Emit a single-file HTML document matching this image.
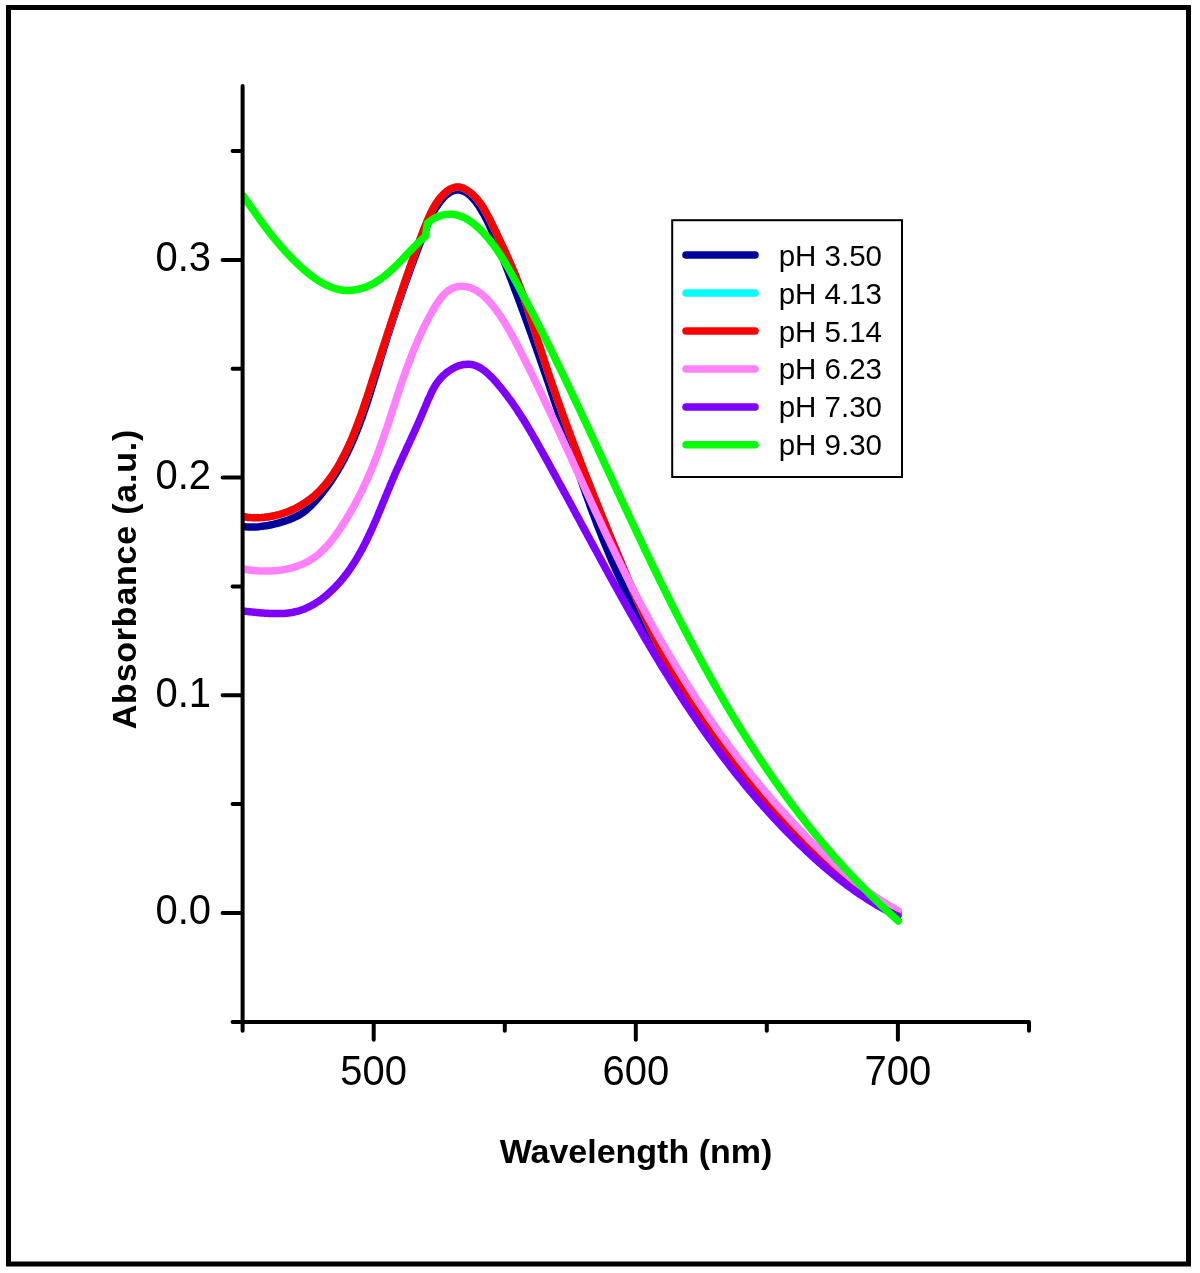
<!DOCTYPE html>
<html><head><meta charset="utf-8"><style>
html,body{margin:0;padding:0;background:#fff;}
body{width:1200px;height:1273px;overflow:hidden;font-family:"Liberation Sans",sans-serif;}
svg{display:block;will-change:transform;}
</style></head><body>
<svg width="1200" height="1273" viewBox="0 0 1200 1273">
<rect x="8.5" y="7.5" width="1180" height="1256.5" fill="none" stroke="#000" stroke-width="5"/>
<defs><clipPath id="pc"><rect x="242.8" y="0" width="1000" height="1273"/></clipPath></defs><g clip-path="url(#pc)">
<path d="M243.0,526.5 L245.6,526.8 L248.2,526.9 L250.8,527.0 L253.4,527.0 L256.0,526.9 L258.6,526.7 L261.1,526.4 L263.7,526.1 L266.3,525.7 L268.9,525.3 L271.4,524.8 L274.0,524.2 L276.5,523.5 L279.0,522.9 L281.5,522.1 L284.0,521.4 L286.5,520.5 L288.9,519.7 L291.3,518.7 L293.7,517.7 L296.0,516.6 L298.3,515.5 L300.5,514.2 L302.7,512.8 L304.8,511.2 L306.8,509.6 L308.7,507.8 L310.6,506.0 L312.5,504.1 L314.3,502.2 L316.1,500.2 L317.8,498.2 L319.5,496.2 L321.2,494.2 L322.8,492.2 L324.4,490.1 L326.0,488.1 L327.5,486.0 L329.0,483.9 L330.5,481.8 L332.0,479.6 L333.4,477.5 L334.8,475.3 L336.1,473.1 L337.5,470.9 L338.8,468.7 L340.1,466.5 L341.3,464.2 L342.6,462.0 L343.8,459.7 L345.0,457.4 L346.1,455.1 L347.3,452.8 L348.4,450.5 L349.5,448.1 L350.6,445.8 L351.6,443.4 L352.7,441.1 L353.7,438.7 L354.7,436.3 L355.7,433.9 L356.7,431.5 L357.6,429.1 L358.6,426.7 L359.5,424.2 L360.4,421.8 L361.3,419.4 L362.2,416.9 L363.1,414.4 L363.9,412.0 L364.8,409.5 L365.6,407.0 L366.5,404.6 L367.3,402.1 L368.1,399.6 L368.9,397.1 L369.7,394.6 L370.5,392.1 L371.3,389.6 L372.0,387.1 L372.8,384.6 L373.6,382.1 L374.3,379.5 L375.1,377.0 L375.9,374.5 L376.6,372.0 L377.4,369.5 L378.1,367.0 L378.9,364.4 L379.6,361.9 L380.4,359.4 L381.1,356.9 L381.9,354.4 L382.7,351.9 L383.4,349.4 L384.2,346.9 L385.0,344.4 L385.7,341.9 L386.5,339.4 L387.3,336.9 L388.1,334.4 L388.9,332.0 L389.7,329.5 L390.5,327.0 L391.3,324.5 L392.1,322.1 L392.9,319.6 L393.7,317.1 L394.5,314.7 L395.4,312.2 L396.2,309.7 L397.0,307.3 L397.8,304.8 L398.7,302.4 L399.5,299.9 L400.4,297.5 L401.2,295.0 L402.0,292.6 L402.9,290.1 L403.8,287.7 L404.6,285.2 L405.5,282.8 L406.3,280.4 L407.2,277.9 L408.1,275.5 L409.0,273.1 L409.8,270.6 L410.7,268.2 L411.6,265.8 L412.5,263.4 L413.4,260.9 L414.3,258.5 L415.2,256.1 L416.1,253.7 L417.0,251.3 L417.9,248.8 L418.8,246.4 L419.7,244.0 L420.7,241.6 L421.6,239.2 L422.5,236.8 L423.4,234.4 L424.4,232.0 L425.3,229.5 L426.3,227.1 L427.3,224.7 L428.3,222.4 L429.4,220.0 L430.5,217.6 L431.7,215.3 L432.9,212.9 L434.2,210.6 L435.6,208.3 L437.1,206.0 L438.7,203.7 L440.3,201.5 L442.1,199.3 L443.9,197.3 L445.8,195.4 L447.8,193.8 L449.9,192.4 L452.0,191.3 L454.2,190.5 L456.5,190.1 L458.7,190.1 L461.0,190.4 L463.2,191.1 L465.4,192.1 L467.5,193.4 L469.5,194.9 L471.4,196.7 L473.2,198.7 L475.0,200.8 L476.7,203.0 L478.3,205.3 L479.8,207.6 L481.2,209.9 L482.6,212.2 L484.0,214.5 L485.2,216.9 L486.4,219.2 L487.6,221.6 L488.7,223.9 L489.8,226.3 L490.9,228.7 L491.9,231.0 L492.9,233.4 L493.9,235.8 L494.9,238.2 L495.8,240.6 L496.8,243.0 L497.8,245.4 L498.7,247.8 L499.7,250.2 L500.6,252.6 L501.6,255.0 L502.5,257.4 L503.5,259.8 L504.4,262.2 L505.4,264.6 L506.3,267.0 L507.2,269.4 L508.2,271.8 L509.1,274.2 L510.0,276.7 L511.0,279.1 L511.9,281.5 L512.8,283.9 L513.7,286.3 L514.6,288.8 L515.6,291.2 L516.5,293.6 L517.4,296.0 L518.3,298.5 L519.2,300.9 L520.1,303.3 L521.0,305.8 L521.9,308.2 L522.8,310.6 L523.7,313.1 L524.6,315.5 L525.5,317.9 L526.4,320.4 L527.2,322.8 L528.1,325.3 L529.0,327.7 L529.9,330.2 L530.8,332.6 L531.7,335.0 L532.5,337.5 L533.4,339.9 L534.3,342.4 L535.1,344.9 L536.0,347.3 L536.9,349.8 L537.7,352.2 L538.6,354.7 L539.5,357.1 L540.3,359.6 L541.2,362.0 L542.0,364.5 L542.9,367.0 L543.7,369.4 L544.6,371.9 L545.4,374.4 L546.3,376.8 L547.1,379.3 L548.0,381.7 L548.8,384.2 L549.6,386.7 L550.5,389.2 L551.3,391.6 L552.1,394.1 L553.0,396.6 L553.8,399.0 L554.6,401.5 L555.5,404.0 L556.3,406.5 L557.1,408.9 L557.9,411.4 L558.8,413.9 L559.6,416.4 L560.4,418.8 L561.2,421.3 L562.1,423.8 L562.9,426.3 L563.7,428.7 L564.5,431.2 L565.4,433.7 L566.2,436.2 L567.0,438.7 L567.8,441.1 L568.6,443.6 L569.5,446.1 L570.3,448.6 L571.1,451.0 L572.0,453.5 L572.8,456.0 L573.6,458.5 L574.5,460.9 L575.3,463.4 L576.1,465.9 L577.0,468.3 L577.8,470.8 L578.7,473.3 L579.5,475.7 L580.4,478.2 L581.2,480.7 L582.1,483.1 L582.9,485.6 L583.8,488.0 L584.7,490.5 L585.5,492.9 L586.4,495.4 L587.3,497.8 L588.2,500.3 L589.1,502.7 L589.9,505.2 L590.8,507.6 L591.7,510.1 L592.6,512.5 L593.6,514.9 L594.5,517.4 L595.4,519.8 L596.3,522.2 L597.2,524.7 L598.2,527.1 L599.1,529.5 L600.1,531.9 L601.0,534.3 L602.0,536.8 L603.0,539.2 L603.9,541.6 L604.9,544.0 L605.9,546.4 L606.9,548.8 L607.9,551.2 L608.9,553.6 L609.9,555.9 L610.9,558.3 L611.9,560.7 L613.0,563.1 L614.0,565.5 L615.1,567.8 L616.1,570.2 L617.2,572.6 L618.3,574.9 L619.3,577.3 L620.4,579.6 L621.5,582.0 L622.6,584.3 L623.7,586.7 L624.8,589.0 L625.9,591.3 L627.0,593.7 L628.2,596.0 L629.3,598.3 L630.4,600.7 L631.6,603.0 L632.7,605.3 L633.9,607.6 L635.1,609.9 L636.2,612.2 L637.4,614.6 L638.6,616.9 L639.8,619.2 L641.0,621.5 L642.2,623.8 L643.4,626.0 L644.6,628.3 L645.9,630.6 L647.1,632.9 L648.3,635.2 L649.6,637.5 L650.8,639.7 L652.1,642.0 L653.3,644.3 L654.6,646.6 L655.8,648.8 L657.1,651.1 L658.4,653.3 L659.7,655.6 L661.0,657.9 L662.3,660.1 L663.6,662.4 L664.9,664.6 L666.2,666.8 L667.5,669.1 L668.9,671.3 L670.2,673.6 L671.5,675.8 L672.9,678.0 L674.2,680.2 L675.6,682.5 L676.9,684.7 L678.3,686.9 L679.7,689.1 L681.0,691.3 L682.4,693.6 L683.8,695.8 L685.2,698.0 L686.6,700.2 L688.0,702.4 L689.4,704.6 L690.8,706.8 L692.2,709.0 L693.7,711.2 L695.1,713.4 L696.5,715.5 L698.0,717.7 L699.4,719.9 L700.9,722.1 L702.3,724.3 L703.8,726.4 L705.2,728.6 L706.7,730.8 L708.2,732.9 L709.7,735.1 L711.2,737.2 L712.7,739.4 L714.2,741.5 L715.7,743.6 L717.2,745.8 L718.7,747.9 L720.2,750.0 L721.8,752.2 L723.3,754.3 L724.8,756.4 L726.4,758.5 L728.0,760.6 L729.5,762.7 L731.1,764.8 L732.7,766.9 L734.3,768.9 L735.8,771.0 L737.4,773.1 L739.0,775.1 L740.7,777.2 L742.3,779.3 L743.9,781.3 L745.5,783.3 L747.2,785.4 L748.8,787.4 L750.5,789.4 L752.1,791.4 L753.8,793.4 L755.5,795.4 L757.1,797.4 L758.8,799.4 L760.5,801.4 L762.2,803.4 L763.9,805.3 L765.7,807.3 L767.4,809.2 L769.1,811.2 L770.9,813.1 L772.6,815.0 L774.4,816.9 L776.1,818.9 L777.9,820.8 L779.7,822.7 L781.5,824.5 L783.2,826.4 L785.0,828.3 L786.9,830.1 L788.7,832.0 L790.5,833.8 L792.3,835.7 L794.2,837.5 L796.0,839.3 L797.9,841.1 L799.8,842.9 L801.6,844.7 L803.5,846.5 L805.4,848.3 L807.3,850.0 L809.2,851.8 L811.1,853.5 L813.1,855.2 L815.0,857.0 L816.9,858.7 L818.9,860.4 L820.8,862.1 L822.8,863.8 L824.8,865.4 L826.8,867.1 L828.8,868.7 L830.8,870.4 L832.8,872.0 L834.8,873.6 L836.9,875.2 L838.9,876.8 L840.9,878.4 L843.0,880.0 L845.1,881.5 L847.2,883.1 L849.2,884.6 L851.3,886.1 L853.5,887.6 L855.6,889.1 L857.7,890.6 L859.8,892.1 L862.0,893.6 L864.1,895.0 L866.3,896.5 L868.5,897.9 L870.7,899.3 L872.9,900.7 L875.1,902.1 L877.3,903.5 L879.5,904.8 L881.7,906.2 L884.0,907.5 L886.2,908.8 L888.5,910.1 L890.8,911.4 L893.1,912.7 L895.4,914.0 L897.7,915.2" fill="none" stroke="#00009a" stroke-width="7.5" stroke-linecap="round" stroke-linejoin="round"/>
<path d="M242.9,516.8 L245.5,517.1 L248.2,517.4 L250.8,517.6 L253.4,517.7 L256.0,517.8 L258.6,517.7 L261.2,517.6 L263.8,517.4 L266.4,517.1 L269.0,516.7 L271.6,516.3 L274.1,515.8 L276.6,515.2 L279.1,514.6 L281.6,513.8 L284.1,513.0 L286.5,512.2 L288.9,511.2 L291.3,510.2 L293.7,509.2 L296.0,508.0 L298.3,506.8 L300.5,505.6 L302.7,504.2 L304.9,502.8 L307.0,501.4 L309.1,499.9 L311.2,498.3 L313.2,496.7 L315.1,495.0 L317.0,493.2 L318.9,491.5 L320.7,489.6 L322.4,487.7 L324.2,485.8 L325.8,483.8 L327.5,481.8 L329.0,479.7 L330.6,477.6 L332.1,475.5 L333.6,473.3 L335.0,471.1 L336.4,468.9 L337.8,466.6 L339.1,464.4 L340.4,462.1 L341.6,459.8 L342.9,457.4 L344.1,455.1 L345.3,452.8 L346.4,450.4 L347.5,448.1 L348.6,445.7 L349.7,443.3 L350.8,441.0 L351.8,438.6 L352.8,436.2 L353.8,433.8 L354.7,431.4 L355.7,429.0 L356.6,426.6 L357.5,424.2 L358.4,421.8 L359.3,419.4 L360.2,417.0 L361.1,414.5 L361.9,412.1 L362.8,409.7 L363.6,407.2 L364.4,404.8 L365.2,402.4 L366.0,399.9 L366.9,397.5 L367.7,395.0 L368.5,392.6 L369.3,390.1 L370.1,387.7 L370.9,385.2 L371.6,382.7 L372.4,380.3 L373.2,377.8 L374.0,375.3 L374.8,372.8 L375.6,370.4 L376.4,367.9 L377.2,365.4 L378.1,362.9 L378.9,360.5 L379.7,358.0 L380.5,355.5 L381.3,353.0 L382.1,350.5 L382.9,348.0 L383.7,345.6 L384.5,343.1 L385.3,340.6 L386.1,338.1 L386.9,335.6 L387.7,333.1 L388.5,330.7 L389.4,328.2 L390.2,325.7 L391.0,323.2 L391.8,320.8 L392.6,318.3 L393.4,315.8 L394.2,313.3 L395.1,310.9 L395.9,308.4 L396.7,305.9 L397.5,303.5 L398.4,301.0 L399.2,298.5 L400.0,296.1 L400.8,293.6 L401.7,291.2 L402.5,288.7 L403.3,286.3 L404.2,283.9 L405.0,281.4 L405.8,279.0 L406.7,276.6 L407.5,274.1 L408.3,271.7 L409.2,269.3 L410.0,266.9 L410.9,264.5 L411.7,262.1 L412.6,259.7 L413.4,257.3 L414.3,254.9 L415.1,252.5 L416.0,250.1 L416.9,247.7 L417.8,245.2 L418.7,242.8 L419.6,240.4 L420.5,238.0 L421.4,235.6 L422.4,233.1 L423.3,230.7 L424.3,228.2 L425.3,225.8 L426.3,223.3 L427.3,220.8 L428.4,218.3 L429.4,215.9 L430.6,213.5 L431.7,211.0 L433.0,208.7 L434.3,206.4 L435.6,204.1 L437.1,201.9 L438.6,199.8 L440.2,197.7 L442.0,195.8 L443.8,193.9 L445.7,192.2 L447.8,190.6 L449.9,189.2 L452.1,188.2 L454.3,187.4 L456.6,187.0 L458.8,187.0 L461.1,187.5 L463.4,188.2 L465.6,189.3 L467.8,190.7 L469.9,192.2 L472.0,193.9 L473.9,195.7 L475.8,197.6 L477.5,199.6 L479.1,201.7 L480.7,203.8 L482.2,205.9 L483.6,208.1 L484.9,210.4 L486.2,212.7 L487.5,215.0 L488.7,217.3 L489.9,219.6 L491.1,222.0 L492.2,224.4 L493.4,226.7 L494.5,229.1 L495.7,231.4 L496.8,233.8 L497.9,236.1 L499.0,238.5 L500.1,240.8 L501.2,243.2 L502.3,245.5 L503.4,247.9 L504.5,250.2 L505.6,252.6 L506.6,254.9 L507.7,257.3 L508.7,259.6 L509.8,262.0 L510.8,264.3 L511.8,266.7 L512.8,269.0 L513.8,271.4 L514.8,273.8 L515.8,276.2 L516.7,278.5 L517.7,280.9 L518.6,283.3 L519.5,285.7 L520.4,288.1 L521.3,290.6 L522.2,293.0 L523.1,295.4 L523.9,297.8 L524.8,300.3 L525.6,302.7 L526.5,305.2 L527.3,307.6 L528.1,310.1 L528.9,312.6 L529.7,315.0 L530.5,317.5 L531.3,320.0 L532.1,322.4 L532.9,324.9 L533.7,327.4 L534.5,329.9 L535.3,332.4 L536.1,334.8 L536.8,337.3 L537.6,339.8 L538.4,342.3 L539.2,344.8 L540.0,347.3 L540.8,349.7 L541.6,352.2 L542.4,354.7 L543.2,357.2 L544.0,359.6 L544.8,362.1 L545.6,364.6 L546.4,367.0 L547.2,369.5 L548.0,372.0 L548.9,374.4 L549.7,376.9 L550.5,379.3 L551.4,381.8 L552.2,384.3 L553.1,386.7 L553.9,389.2 L554.8,391.6 L555.6,394.1 L556.5,396.5 L557.3,399.0 L558.2,401.4 L559.1,403.9 L559.9,406.3 L560.8,408.7 L561.7,411.2 L562.5,413.6 L563.4,416.1 L564.3,418.5 L565.2,420.9 L566.1,423.4 L567.0,425.8 L567.9,428.2 L568.8,430.7 L569.7,433.1 L570.6,435.5 L571.5,438.0 L572.4,440.4 L573.3,442.8 L574.2,445.2 L575.1,447.7 L576.1,450.1 L577.0,452.5 L577.9,454.9 L578.8,457.3 L579.8,459.8 L580.7,462.2 L581.6,464.6 L582.5,467.0 L583.5,469.4 L584.4,471.9 L585.4,474.3 L586.3,476.7 L587.3,479.1 L588.2,481.5 L589.2,483.9 L590.1,486.3 L591.1,488.7 L592.0,491.1 L593.0,493.6 L593.9,496.0 L594.9,498.4 L595.9,500.8 L596.8,503.2 L597.8,505.6 L598.8,508.0 L599.7,510.4 L600.7,512.8 L601.7,515.2 L602.7,517.6 L603.6,520.0 L604.6,522.4 L605.6,524.8 L606.6,527.2 L607.6,529.6 L608.5,532.0 L609.5,534.4 L610.5,536.8 L611.5,539.2 L612.5,541.6 L613.5,544.0 L614.5,546.4 L615.5,548.8 L616.5,551.2 L617.5,553.6 L618.5,556.0 L619.5,558.4 L620.5,560.8 L621.5,563.2 L622.5,565.6 L623.5,568.0 L624.5,570.4 L625.5,572.8 L626.5,575.2 L627.5,577.6 L628.5,580.0 L629.6,582.4 L630.6,584.8 L631.6,587.2 L632.7,589.6 L633.7,591.9 L634.7,594.3 L635.8,596.7 L636.8,599.1 L637.9,601.5 L638.9,603.8 L640.0,606.2 L641.1,608.6 L642.1,611.0 L643.2,613.3 L644.3,615.7 L645.4,618.0 L646.4,620.4 L647.5,622.8 L648.6,625.1 L649.7,627.5 L650.9,629.8 L652.0,632.1 L653.1,634.5 L654.2,636.8 L655.4,639.1 L656.5,641.5 L657.7,643.8 L658.8,646.1 L660.0,648.4 L661.1,650.7 L662.3,653.1 L663.5,655.4 L664.7,657.7 L665.9,659.9 L667.1,662.2 L668.3,664.5 L669.6,666.8 L670.8,669.1 L672.0,671.4 L673.3,673.6 L674.5,675.9 L675.8,678.1 L677.1,680.4 L678.4,682.6 L679.7,684.9 L681.0,687.1 L682.3,689.3 L683.6,691.6 L684.9,693.8 L686.3,696.0 L687.6,698.2 L689.0,700.4 L690.3,702.6 L691.7,704.8 L693.1,707.0 L694.5,709.1 L695.9,711.3 L697.4,713.5 L698.8,715.6 L700.2,717.8 L701.7,719.9 L703.2,722.1 L704.6,724.2 L706.1,726.3 L707.6,728.4 L709.1,730.6 L710.6,732.7 L712.1,734.8 L713.6,736.9 L715.2,739.0 L716.7,741.0 L718.3,743.1 L719.8,745.2 L721.4,747.3 L723.0,749.3 L724.5,751.4 L726.1,753.5 L727.7,755.5 L729.3,757.5 L731.0,759.6 L732.6,761.6 L734.2,763.6 L735.8,765.7 L737.5,767.7 L739.1,769.7 L740.8,771.7 L742.4,773.7 L744.1,775.7 L745.8,777.7 L747.5,779.7 L749.2,781.7 L750.9,783.6 L752.6,785.6 L754.3,787.6 L756.0,789.6 L757.7,791.5 L759.4,793.5 L761.1,795.4 L762.9,797.4 L764.6,799.3 L766.4,801.2 L768.1,803.2 L769.9,805.1 L771.6,807.0 L773.4,808.9 L775.2,810.8 L776.9,812.7 L778.7,814.7 L780.5,816.6 L782.3,818.4 L784.1,820.3 L785.9,822.2 L787.7,824.1 L789.5,826.0 L791.3,827.9 L793.1,829.7 L794.9,831.6 L796.7,833.5 L798.6,835.3 L800.4,837.2 L802.2,839.0 L804.0,840.9 L805.9,842.7 L807.7,844.5 L809.5,846.4 L811.4,848.2 L813.2,850.0 L815.1,851.9 L816.9,853.7 L818.8,855.5 L820.6,857.3 L822.5,859.1 L824.4,860.9 L826.2,862.7 L828.1,864.5 L830.0,866.2 L831.9,868.0 L833.8,869.7 L835.7,871.5 L837.7,873.2 L839.6,874.9 L841.5,876.6 L843.5,878.3 L845.5,879.9 L847.4,881.6 L849.4,883.2 L851.4,884.8 L853.5,886.4 L855.5,888.0 L857.6,889.5 L859.6,891.0 L861.7,892.6 L863.8,894.0 L866.0,895.5 L868.1,896.9 L870.3,898.3 L872.5,899.7 L874.7,901.1 L876.9,902.4 L879.1,903.7 L881.4,905.0 L883.7,906.2 L886.0,907.5 L888.4,908.6 L890.8,909.8 L893.2,910.9 L895.6,912.0 L898.0,913.1" fill="none" stroke="#00ffff" stroke-width="7.5" stroke-linecap="round" stroke-linejoin="round"/>
<path d="M242.9,516.8 L245.5,517.1 L248.2,517.4 L250.8,517.6 L253.4,517.7 L256.0,517.8 L258.6,517.7 L261.2,517.6 L263.8,517.4 L266.4,517.1 L269.0,516.7 L271.6,516.3 L274.1,515.8 L276.6,515.2 L279.1,514.6 L281.6,513.8 L284.1,513.0 L286.5,512.2 L288.9,511.2 L291.3,510.2 L293.7,509.2 L296.0,508.0 L298.3,506.8 L300.5,505.6 L302.7,504.2 L304.9,502.8 L307.0,501.4 L309.1,499.9 L311.2,498.3 L313.2,496.7 L315.1,495.0 L317.0,493.2 L318.9,491.5 L320.7,489.6 L322.4,487.7 L324.2,485.8 L325.8,483.8 L327.5,481.8 L329.0,479.7 L330.6,477.6 L332.1,475.5 L333.6,473.3 L335.0,471.1 L336.4,468.9 L337.8,466.6 L339.1,464.4 L340.4,462.1 L341.6,459.8 L342.9,457.4 L344.1,455.1 L345.3,452.8 L346.4,450.4 L347.5,448.1 L348.6,445.7 L349.7,443.3 L350.8,441.0 L351.8,438.6 L352.8,436.2 L353.8,433.8 L354.7,431.4 L355.7,429.0 L356.6,426.6 L357.5,424.2 L358.4,421.8 L359.3,419.4 L360.2,417.0 L361.1,414.5 L361.9,412.1 L362.8,409.7 L363.6,407.2 L364.4,404.8 L365.2,402.4 L366.0,399.9 L366.9,397.5 L367.7,395.0 L368.5,392.6 L369.3,390.1 L370.1,387.7 L370.9,385.2 L371.6,382.7 L372.4,380.3 L373.2,377.8 L374.0,375.3 L374.8,372.8 L375.6,370.4 L376.4,367.9 L377.2,365.4 L378.1,362.9 L378.9,360.5 L379.7,358.0 L380.5,355.5 L381.3,353.0 L382.1,350.5 L382.9,348.0 L383.7,345.6 L384.5,343.1 L385.3,340.6 L386.1,338.1 L386.9,335.6 L387.7,333.1 L388.5,330.7 L389.4,328.2 L390.2,325.7 L391.0,323.2 L391.8,320.8 L392.6,318.3 L393.4,315.8 L394.2,313.3 L395.1,310.9 L395.9,308.4 L396.7,305.9 L397.5,303.5 L398.4,301.0 L399.2,298.5 L400.0,296.1 L400.8,293.6 L401.7,291.2 L402.5,288.7 L403.3,286.3 L404.2,283.9 L405.0,281.4 L405.8,279.0 L406.7,276.6 L407.5,274.1 L408.3,271.7 L409.2,269.3 L410.0,266.9 L410.9,264.5 L411.7,262.1 L412.6,259.7 L413.4,257.3 L414.3,254.9 L415.1,252.5 L416.0,250.1 L416.9,247.7 L417.8,245.2 L418.7,242.8 L419.6,240.4 L420.5,238.0 L421.4,235.6 L422.4,233.1 L423.3,230.7 L424.3,228.2 L425.3,225.8 L426.3,223.3 L427.3,220.8 L428.4,218.3 L429.4,215.9 L430.6,213.5 L431.7,211.0 L433.0,208.7 L434.3,206.4 L435.6,204.1 L437.1,201.9 L438.6,199.8 L440.2,197.7 L442.0,195.8 L443.8,193.9 L445.7,192.2 L447.8,190.6 L449.9,189.2 L452.1,188.2 L454.3,187.4 L456.6,187.0 L458.8,187.0 L461.1,187.5 L463.4,188.2 L465.6,189.3 L467.8,190.7 L469.9,192.2 L472.0,193.9 L473.9,195.7 L475.8,197.6 L477.5,199.6 L479.1,201.7 L480.7,203.8 L482.2,205.9 L483.6,208.1 L484.9,210.4 L486.2,212.7 L487.5,215.0 L488.7,217.3 L489.9,219.6 L491.1,222.0 L492.2,224.4 L493.4,226.7 L494.5,229.1 L495.7,231.4 L496.8,233.8 L497.9,236.1 L499.0,238.5 L500.1,240.8 L501.2,243.2 L502.3,245.5 L503.4,247.9 L504.5,250.2 L505.6,252.6 L506.6,254.9 L507.7,257.3 L508.7,259.6 L509.8,262.0 L510.8,264.3 L511.8,266.7 L512.8,269.0 L513.8,271.4 L514.8,273.8 L515.8,276.2 L516.7,278.5 L517.7,280.9 L518.6,283.3 L519.5,285.7 L520.4,288.1 L521.3,290.6 L522.2,293.0 L523.1,295.4 L523.9,297.8 L524.8,300.3 L525.6,302.7 L526.5,305.2 L527.3,307.6 L528.1,310.1 L528.9,312.6 L529.7,315.0 L530.5,317.5 L531.3,320.0 L532.1,322.4 L532.9,324.9 L533.7,327.4 L534.5,329.9 L535.3,332.4 L536.1,334.8 L536.8,337.3 L537.6,339.8 L538.4,342.3 L539.2,344.8 L540.0,347.3 L540.8,349.7 L541.6,352.2 L542.4,354.7 L543.2,357.2 L544.0,359.6 L544.8,362.1 L545.6,364.6 L546.4,367.0 L547.2,369.5 L548.0,372.0 L548.9,374.4 L549.7,376.9 L550.5,379.3 L551.4,381.8 L552.2,384.3 L553.1,386.7 L553.9,389.2 L554.8,391.6 L555.6,394.1 L556.5,396.5 L557.3,399.0 L558.2,401.4 L559.1,403.9 L559.9,406.3 L560.8,408.7 L561.7,411.2 L562.5,413.6 L563.4,416.1 L564.3,418.5 L565.2,420.9 L566.1,423.4 L567.0,425.8 L567.9,428.2 L568.8,430.7 L569.7,433.1 L570.6,435.5 L571.5,438.0 L572.4,440.4 L573.3,442.8 L574.2,445.2 L575.1,447.7 L576.1,450.1 L577.0,452.5 L577.9,454.9 L578.8,457.3 L579.8,459.8 L580.7,462.2 L581.6,464.6 L582.5,467.0 L583.5,469.4 L584.4,471.9 L585.4,474.3 L586.3,476.7 L587.3,479.1 L588.2,481.5 L589.2,483.9 L590.1,486.3 L591.1,488.7 L592.0,491.1 L593.0,493.6 L593.9,496.0 L594.9,498.4 L595.9,500.8 L596.8,503.2 L597.8,505.6 L598.8,508.0 L599.7,510.4 L600.7,512.8 L601.7,515.2 L602.7,517.6 L603.6,520.0 L604.6,522.4 L605.6,524.8 L606.6,527.2 L607.6,529.6 L608.5,532.0 L609.5,534.4 L610.5,536.8 L611.5,539.2 L612.5,541.6 L613.5,544.0 L614.5,546.4 L615.5,548.8 L616.5,551.2 L617.5,553.6 L618.5,556.0 L619.5,558.4 L620.5,560.8 L621.5,563.2 L622.5,565.6 L623.5,568.0 L624.5,570.4 L625.5,572.8 L626.5,575.2 L627.5,577.6 L628.5,580.0 L629.6,582.4 L630.6,584.8 L631.6,587.2 L632.7,589.6 L633.7,591.9 L634.7,594.3 L635.8,596.7 L636.8,599.1 L637.9,601.5 L638.9,603.8 L640.0,606.2 L641.1,608.6 L642.1,611.0 L643.2,613.3 L644.3,615.7 L645.4,618.0 L646.4,620.4 L647.5,622.8 L648.6,625.1 L649.7,627.5 L650.9,629.8 L652.0,632.1 L653.1,634.5 L654.2,636.8 L655.4,639.1 L656.5,641.5 L657.7,643.8 L658.8,646.1 L660.0,648.4 L661.1,650.7 L662.3,653.1 L663.5,655.4 L664.7,657.7 L665.9,659.9 L667.1,662.2 L668.3,664.5 L669.6,666.8 L670.8,669.1 L672.0,671.4 L673.3,673.6 L674.5,675.9 L675.8,678.1 L677.1,680.4 L678.4,682.6 L679.7,684.9 L681.0,687.1 L682.3,689.3 L683.6,691.6 L684.9,693.8 L686.3,696.0 L687.6,698.2 L689.0,700.4 L690.3,702.6 L691.7,704.8 L693.1,707.0 L694.5,709.1 L695.9,711.3 L697.4,713.5 L698.8,715.6 L700.2,717.8 L701.7,719.9 L703.2,722.1 L704.6,724.2 L706.1,726.3 L707.6,728.4 L709.1,730.6 L710.6,732.7 L712.1,734.8 L713.6,736.9 L715.2,739.0 L716.7,741.0 L718.3,743.1 L719.8,745.2 L721.4,747.3 L723.0,749.3 L724.5,751.4 L726.1,753.5 L727.7,755.5 L729.3,757.5 L731.0,759.6 L732.6,761.6 L734.2,763.6 L735.8,765.7 L737.5,767.7 L739.1,769.7 L740.8,771.7 L742.4,773.7 L744.1,775.7 L745.8,777.7 L747.5,779.7 L749.2,781.7 L750.9,783.6 L752.6,785.6 L754.3,787.6 L756.0,789.6 L757.7,791.5 L759.4,793.5 L761.1,795.4 L762.9,797.4 L764.6,799.3 L766.4,801.2 L768.1,803.2 L769.9,805.1 L771.6,807.0 L773.4,808.9 L775.2,810.8 L776.9,812.7 L778.7,814.7 L780.5,816.6 L782.3,818.4 L784.1,820.3 L785.9,822.2 L787.7,824.1 L789.5,826.0 L791.3,827.9 L793.1,829.7 L794.9,831.6 L796.7,833.5 L798.6,835.3 L800.4,837.2 L802.2,839.0 L804.0,840.9 L805.9,842.7 L807.7,844.5 L809.5,846.4 L811.4,848.2 L813.2,850.0 L815.1,851.9 L816.9,853.7 L818.8,855.5 L820.6,857.3 L822.5,859.1 L824.4,860.9 L826.2,862.7 L828.1,864.5 L830.0,866.2 L831.9,868.0 L833.8,869.7 L835.7,871.5 L837.7,873.2 L839.6,874.9 L841.5,876.6 L843.5,878.3 L845.5,879.9 L847.4,881.6 L849.4,883.2 L851.4,884.8 L853.5,886.4 L855.5,888.0 L857.6,889.5 L859.6,891.0 L861.7,892.6 L863.8,894.0 L866.0,895.5 L868.1,896.9 L870.3,898.3 L872.5,899.7 L874.7,901.1 L876.9,902.4 L879.1,903.7 L881.4,905.0 L883.7,906.2 L886.0,907.5 L888.4,908.6 L890.8,909.8 L893.2,910.9 L895.6,912.0 L898.0,913.1" fill="none" stroke="#ff0000" stroke-width="7.5" stroke-linecap="round" stroke-linejoin="round"/>
<path d="M243.1,568.9 L245.3,569.3 L247.6,569.7 L249.8,570.0 L252.1,570.3 L254.4,570.5 L256.7,570.7 L259.1,570.9 L261.4,571.0 L263.8,571.1 L266.1,571.1 L268.5,571.1 L270.9,571.0 L273.3,570.8 L275.7,570.7 L278.1,570.4 L280.4,570.1 L282.8,569.8 L285.1,569.4 L287.4,568.9 L289.8,568.4 L292.0,567.8 L294.3,567.1 L296.5,566.4 L298.7,565.6 L300.9,564.8 L303.0,563.9 L305.1,562.9 L307.2,561.9 L309.2,560.8 L311.1,559.6 L313.0,558.3 L314.9,557.0 L316.7,555.6 L318.5,554.2 L320.2,552.7 L321.9,551.1 L323.6,549.5 L325.2,547.8 L326.8,546.1 L328.3,544.4 L329.8,542.6 L331.3,540.8 L332.8,538.9 L334.2,537.1 L335.6,535.2 L337.0,533.2 L338.3,531.3 L339.7,529.3 L341.0,527.4 L342.3,525.4 L343.6,523.4 L344.9,521.4 L346.1,519.4 L347.3,517.4 L348.6,515.4 L349.8,513.4 L350.9,511.3 L352.1,509.3 L353.3,507.2 L354.4,505.2 L355.5,503.1 L356.6,501.0 L357.7,498.9 L358.8,496.9 L359.8,494.8 L360.9,492.7 L361.9,490.5 L362.9,488.4 L363.9,486.3 L364.9,484.2 L365.9,482.0 L366.9,479.9 L367.8,477.8 L368.8,475.6 L369.7,473.5 L370.6,471.3 L371.5,469.1 L372.4,467.0 L373.3,464.8 L374.2,462.6 L375.0,460.4 L375.9,458.3 L376.7,456.1 L377.6,453.9 L378.4,451.7 L379.2,449.5 L380.0,447.3 L380.8,445.1 L381.6,442.9 L382.4,440.7 L383.1,438.5 L383.9,436.3 L384.6,434.1 L385.4,431.9 L386.1,429.7 L386.9,427.5 L387.6,425.3 L388.4,423.1 L389.1,420.9 L389.8,418.7 L390.5,416.5 L391.3,414.3 L392.0,412.1 L392.7,409.9 L393.4,407.7 L394.1,405.5 L394.9,403.3 L395.6,401.0 L396.3,398.8 L397.0,396.6 L397.7,394.4 L398.5,392.2 L399.2,390.0 L399.9,387.8 L400.7,385.6 L401.4,383.4 L402.2,381.2 L402.9,379.0 L403.7,376.8 L404.5,374.6 L405.3,372.4 L406.0,370.2 L406.8,368.0 L407.6,365.8 L408.5,363.6 L409.3,361.4 L410.1,359.3 L410.9,357.1 L411.8,354.9 L412.7,352.7 L413.5,350.5 L414.4,348.4 L415.3,346.2 L416.3,344.0 L417.2,341.9 L418.1,339.7 L419.1,337.5 L420.1,335.4 L421.1,333.2 L422.1,331.1 L423.1,328.9 L424.1,326.8 L425.2,324.7 L426.3,322.5 L427.4,320.4 L428.5,318.3 L429.6,316.1 L430.8,314.0 L432.0,311.9 L433.2,309.8 L434.4,307.7 L435.6,305.6 L436.9,303.6 L438.2,301.6 L439.6,299.7 L441.0,297.8 L442.5,296.0 L444.0,294.4 L445.6,292.8 L447.3,291.4 L449.0,290.1 L450.8,289.0 L452.7,288.1 L454.7,287.3 L456.8,286.8 L458.9,286.4 L461.1,286.3 L463.3,286.3 L465.6,286.6 L467.8,287.0 L470.0,287.6 L472.1,288.4 L474.3,289.4 L476.3,290.5 L478.4,291.8 L480.3,293.1 L482.2,294.6 L484.0,296.2 L485.8,297.9 L487.4,299.6 L489.1,301.4 L490.7,303.2 L492.2,305.1 L493.7,307.0 L495.2,308.9 L496.6,310.8 L498.0,312.7 L499.4,314.7 L500.7,316.6 L502.0,318.6 L503.3,320.5 L504.6,322.5 L505.8,324.5 L507.0,326.5 L508.2,328.5 L509.4,330.6 L510.5,332.6 L511.6,334.6 L512.8,336.7 L513.9,338.7 L515.0,340.8 L516.0,342.8 L517.1,344.9 L518.2,347.0 L519.2,349.0 L520.3,351.1 L521.4,353.2 L522.4,355.3 L523.5,357.3 L524.5,359.4 L525.6,361.5 L526.6,363.6 L527.6,365.7 L528.7,367.8 L529.7,369.8 L530.7,371.9 L531.8,374.0 L532.8,376.1 L533.8,378.2 L534.8,380.3 L535.8,382.4 L536.9,384.5 L537.9,386.6 L538.9,388.7 L539.9,390.8 L540.9,392.9 L541.9,395.0 L542.9,397.1 L543.9,399.2 L544.9,401.3 L545.9,403.5 L546.9,405.6 L547.9,407.7 L548.9,409.8 L549.9,411.9 L550.9,414.0 L551.8,416.1 L552.8,418.3 L553.8,420.4 L554.8,422.5 L555.8,424.6 L556.8,426.7 L557.7,428.9 L558.7,431.0 L559.7,433.1 L560.7,435.2 L561.6,437.3 L562.6,439.5 L563.6,441.6 L564.6,443.7 L565.5,445.9 L566.5,448.0 L567.5,450.1 L568.5,452.2 L569.4,454.4 L570.4,456.5 L571.4,458.6 L572.3,460.7 L573.3,462.9 L574.3,465.0 L575.3,467.1 L576.2,469.3 L577.2,471.4 L578.2,473.5 L579.1,475.7 L580.1,477.8 L581.1,479.9 L582.1,482.0 L583.0,484.2 L584.0,486.3 L585.0,488.4 L585.9,490.6 L586.9,492.7 L587.9,494.8 L588.9,497.0 L589.8,499.1 L590.8,501.2 L591.8,503.3 L592.8,505.5 L593.8,507.6 L594.7,509.7 L595.7,511.8 L596.7,514.0 L597.7,516.1 L598.7,518.2 L599.7,520.3 L600.7,522.5 L601.6,524.6 L602.6,526.7 L603.6,528.8 L604.6,531.0 L605.6,533.1 L606.6,535.2 L607.6,537.3 L608.6,539.4 L609.6,541.5 L610.6,543.7 L611.7,545.8 L612.7,547.9 L613.7,550.0 L614.7,552.1 L615.7,554.2 L616.7,556.3 L617.8,558.4 L618.8,560.5 L619.8,562.6 L620.8,564.7 L621.9,566.8 L622.9,568.9 L623.9,571.0 L625.0,573.1 L626.0,575.2 L627.1,577.3 L628.1,579.4 L629.2,581.5 L630.2,583.6 L631.3,585.7 L632.4,587.8 L633.4,589.9 L634.5,591.9 L635.6,594.0 L636.6,596.1 L637.7,598.2 L638.8,600.2 L639.9,602.3 L641.0,604.4 L642.1,606.5 L643.2,608.5 L644.3,610.6 L645.4,612.7 L646.5,614.7 L647.6,616.8 L648.7,618.8 L649.8,620.9 L651.0,622.9 L652.1,625.0 L653.2,627.0 L654.4,629.1 L655.5,631.1 L656.6,633.2 L657.8,635.2 L658.9,637.3 L660.1,639.3 L661.2,641.3 L662.4,643.4 L663.6,645.4 L664.7,647.4 L665.9,649.4 L667.1,651.5 L668.3,653.5 L669.5,655.5 L670.7,657.5 L671.9,659.5 L673.1,661.5 L674.3,663.5 L675.5,665.5 L676.7,667.5 L677.9,669.5 L679.1,671.5 L680.3,673.5 L681.6,675.5 L682.8,677.5 L684.0,679.5 L685.3,681.5 L686.5,683.4 L687.7,685.4 L689.0,687.4 L690.3,689.4 L691.5,691.3 L692.8,693.3 L694.0,695.3 L695.3,697.2 L696.6,699.2 L697.9,701.1 L699.2,703.1 L700.5,705.0 L701.8,707.0 L703.1,708.9 L704.4,710.9 L705.7,712.8 L707.0,714.7 L708.3,716.7 L709.6,718.6 L710.9,720.5 L712.3,722.4 L713.6,724.3 L714.9,726.3 L716.3,728.2 L717.6,730.1 L719.0,732.0 L720.3,733.9 L721.7,735.8 L723.1,737.7 L724.4,739.6 L725.8,741.4 L727.2,743.3 L728.6,745.2 L730.0,747.1 L731.4,749.0 L732.8,750.8 L734.2,752.7 L735.6,754.6 L737.0,756.4 L738.4,758.3 L739.8,760.1 L741.3,762.0 L742.7,763.8 L744.1,765.6 L745.6,767.5 L747.0,769.3 L748.5,771.1 L749.9,773.0 L751.4,774.8 L752.8,776.6 L754.3,778.4 L755.8,780.2 L757.3,782.0 L758.7,783.8 L760.2,785.6 L761.7,787.4 L763.2,789.2 L764.7,791.0 L766.2,792.8 L767.8,794.6 L769.3,796.4 L770.8,798.1 L772.3,799.9 L773.9,801.7 L775.4,803.4 L777.0,805.2 L778.5,806.9 L780.1,808.7 L781.6,810.4 L783.2,812.1 L784.8,813.9 L786.3,815.6 L787.9,817.3 L789.5,819.1 L791.1,820.8 L792.7,822.5 L794.3,824.2 L795.9,825.9 L797.5,827.6 L799.1,829.3 L800.7,831.0 L802.4,832.7 L804.0,834.3 L805.6,836.0 L807.3,837.7 L808.9,839.4 L810.6,841.0 L812.3,842.7 L813.9,844.3 L815.6,846.0 L817.3,847.6 L819.0,849.3 L820.6,850.9 L822.3,852.5 L824.0,854.1 L825.7,855.8 L827.4,857.4 L829.2,859.0 L830.9,860.6 L832.6,862.2 L834.3,863.8 L836.1,865.3 L837.8,866.9 L839.6,868.5 L841.4,870.0 L843.1,871.6 L844.9,873.1 L846.7,874.6 L848.5,876.1 L850.3,877.6 L852.1,879.1 L853.9,880.6 L855.7,882.1 L857.6,883.5 L859.4,885.0 L861.3,886.4 L863.1,887.8 L865.0,889.2 L866.9,890.6 L868.7,892.0 L870.6,893.4 L872.5,894.7 L874.4,896.0 L876.4,897.4 L878.3,898.7 L880.2,899.9 L882.2,901.2 L884.2,902.5 L886.1,903.7 L888.1,904.9 L890.1,906.1 L892.1,907.3 L894.1,908.4 L896.2,909.6 L898.2,910.7" fill="none" stroke="#ff80ff" stroke-width="7.5" stroke-linecap="round" stroke-linejoin="round"/>
<path d="M243.1,611.1 L244.3,611.2 L245.5,611.3 L246.6,611.4 L247.8,611.6 L249.0,611.7 L250.3,611.8 L251.5,611.9 L252.7,612.1 L253.9,612.2 L255.2,612.3 L256.4,612.4 L257.6,612.5 L258.9,612.7 L260.1,612.8 L261.4,612.9 L262.7,613.0 L263.9,613.1 L265.2,613.2 L266.5,613.3 L267.7,613.3 L269.0,613.4 L270.3,613.5 L271.6,613.5 L272.9,613.6 L274.1,613.6 L275.4,613.6 L276.7,613.6 L278.0,613.6 L279.3,613.6 L280.5,613.6 L281.8,613.5 L283.1,613.5 L284.4,613.4 L285.6,613.3 L286.9,613.2 L288.1,613.0 L289.4,612.9 L290.6,612.7 L291.9,612.5 L293.1,612.3 L294.3,612.0 L295.6,611.7 L296.8,611.4 L298.0,611.1 L299.1,610.8 L300.3,610.4 L301.5,610.0 L302.7,609.6 L303.8,609.2 L305.0,608.7 L306.1,608.2 L307.2,607.7 L308.3,607.2 L309.4,606.6 L310.5,606.1 L311.6,605.5 L312.7,604.9 L313.8,604.3 L314.8,603.7 L315.9,603.0 L316.9,602.3 L318.0,601.7 L319.0,601.0 L320.0,600.2 L321.0,599.5 L322.0,598.8 L323.0,598.0 L324.0,597.3 L324.9,596.5 L325.9,595.7 L326.9,594.9 L327.8,594.1 L328.7,593.3 L329.6,592.5 L330.5,591.6 L331.4,590.8 L332.3,589.9 L333.2,589.1 L334.1,588.2 L335.0,587.3 L335.8,586.4 L336.7,585.5 L337.5,584.6 L338.3,583.7 L339.1,582.8 L340.0,581.9 L340.8,581.0 L341.6,580.0 L342.3,579.1 L343.1,578.1 L343.9,577.2 L344.6,576.2 L345.4,575.2 L346.2,574.3 L346.9,573.3 L347.6,572.3 L348.3,571.3 L349.1,570.3 L349.8,569.3 L350.5,568.3 L351.2,567.2 L351.9,566.2 L352.5,565.2 L353.2,564.1 L353.9,563.1 L354.6,562.0 L355.2,561.0 L355.9,559.9 L356.5,558.9 L357.2,557.8 L357.8,556.7 L358.4,555.6 L359.0,554.5 L359.7,553.5 L360.3,552.4 L360.9,551.3 L361.5,550.2 L362.1,549.1 L362.7,548.0 L363.3,546.8 L363.8,545.7 L364.4,544.6 L365.0,543.5 L365.6,542.4 L366.1,541.2 L366.7,540.1 L367.2,539.0 L367.8,537.8 L368.3,536.7 L368.9,535.5 L369.4,534.4 L370.0,533.2 L370.5,532.1 L371.0,530.9 L371.5,529.8 L372.1,528.6 L372.6,527.5 L373.1,526.3 L373.6,525.1 L374.1,524.0 L374.6,522.8 L375.1,521.6 L375.7,520.5 L376.2,519.3 L376.7,518.1 L377.2,516.9 L377.7,515.8 L378.1,514.6 L378.6,513.4 L379.1,512.2 L379.6,511.1 L380.1,509.9 L380.6,508.7 L381.1,507.5 L381.6,506.4 L382.1,505.2 L382.5,504.0 L383.0,502.8 L383.5,501.6 L384.0,500.5 L384.5,499.3 L384.9,498.1 L385.4,496.9 L385.9,495.8 L386.4,494.6 L386.9,493.4 L387.3,492.3 L387.8,491.1 L388.3,489.9 L388.8,488.8 L389.3,487.6 L389.8,486.4 L390.2,485.3 L390.7,484.1 L391.2,483.0 L391.7,481.8 L392.2,480.7 L392.7,479.5 L393.2,478.4 L393.7,477.2 L394.2,476.1 L394.6,474.9 L395.1,473.8 L395.6,472.7 L396.1,471.5 L396.6,470.4 L397.1,469.3 L397.6,468.1 L398.2,467.0 L398.7,465.9 L399.2,464.8 L399.7,463.6 L400.2,462.5 L400.7,461.4 L401.2,460.3 L401.7,459.2 L402.2,458.1 L402.7,456.9 L403.2,455.8 L403.8,454.7 L404.3,453.6 L404.8,452.5 L405.3,451.4 L405.8,450.3 L406.3,449.1 L406.8,448.0 L407.3,446.9 L407.9,445.8 L408.4,444.7 L408.9,443.6 L409.4,442.5 L409.9,441.3 L410.4,440.2 L411.0,439.1 L411.5,438.0 L412.0,436.9 L412.5,435.7 L413.0,434.6 L413.5,433.5 L414.0,432.4 L414.5,431.3 L415.1,430.1 L415.6,429.0 L416.1,427.9 L416.6,426.7 L417.1,425.6 L417.6,424.5 L418.1,423.3 L418.6,422.2 L419.1,421.0 L419.6,419.9 L420.1,418.8 L420.6,417.6 L421.1,416.4 L421.6,415.3 L422.1,414.1 L422.6,413.0 L423.1,411.8 L423.6,410.6 L424.1,409.5 L424.6,408.3 L425.1,407.1 L425.6,405.9 L426.1,404.7 L426.6,403.6 L427.1,402.4 L427.5,401.2 L428.0,400.0 L428.5,398.8 L429.5,397.1 L430.3,395.2 L431.1,393.2 L432.1,391.2 L433.1,389.2 L434.2,387.3 L435.4,385.3 L436.6,383.4 L438.0,381.5 L439.4,379.7 L440.9,378.0 L442.5,376.3 L444.2,374.7 L445.9,373.2 L447.7,371.8 L449.6,370.5 L451.4,369.3 L453.4,368.2 L455.3,367.2 L457.3,366.3 L459.3,365.6 L461.3,365.1 L463.4,364.6 L465.4,364.4 L467.4,364.2 L469.4,364.3 L471.3,364.5 L473.3,364.9 L475.2,365.5 L477.0,366.2 L478.9,367.1 L480.7,368.1 L482.4,369.3 L484.2,370.5 L485.9,371.9 L487.6,373.3 L489.2,374.9 L490.9,376.5 L492.5,378.1 L494.1,379.8 L495.6,381.6 L497.1,383.3 L498.6,385.1 L500.1,386.9 L501.6,388.7 L503.0,390.5 L504.4,392.3 L505.8,394.1 L507.2,395.9 L508.5,397.7 L509.9,399.5 L511.2,401.3 L512.5,403.1 L513.8,405.0 L515.0,406.8 L516.3,408.6 L517.5,410.5 L518.7,412.3 L519.9,414.2 L521.1,416.0 L522.3,417.9 L523.5,419.7 L524.6,421.6 L525.8,423.4 L526.9,425.3 L528.0,427.2 L529.1,429.1 L530.2,430.9 L531.3,432.8 L532.4,434.7 L533.5,436.6 L534.6,438.5 L535.7,440.3 L536.7,442.2 L537.8,444.1 L538.9,446.0 L539.9,447.9 L541.0,449.8 L542.0,451.7 L543.1,453.6 L544.2,455.5 L545.2,457.4 L546.3,459.3 L547.3,461.2 L548.4,463.1 L549.4,465.0 L550.5,467.0 L551.5,468.9 L552.6,470.8 L553.6,472.7 L554.7,474.6 L555.7,476.5 L556.8,478.4 L557.8,480.4 L558.9,482.3 L559.9,484.2 L561.0,486.1 L562.0,488.0 L563.1,490.0 L564.1,491.9 L565.2,493.8 L566.2,495.7 L567.3,497.7 L568.3,499.6 L569.3,501.5 L570.4,503.4 L571.4,505.4 L572.5,507.3 L573.5,509.2 L574.6,511.2 L575.6,513.1 L576.7,515.0 L577.7,516.9 L578.8,518.9 L579.8,520.8 L580.8,522.7 L581.9,524.7 L582.9,526.6 L584.0,528.5 L585.0,530.5 L586.1,532.4 L587.1,534.4 L588.2,536.3 L589.2,538.2 L590.3,540.2 L591.3,542.1 L592.4,544.0 L593.4,546.0 L594.5,547.9 L595.5,549.8 L596.6,551.8 L597.6,553.7 L598.7,555.6 L599.7,557.6 L600.8,559.5 L601.8,561.5 L602.9,563.4 L604.0,565.3 L605.0,567.3 L606.1,569.2 L607.1,571.1 L608.2,573.1 L609.3,575.0 L610.3,576.9 L611.4,578.9 L612.5,580.8 L613.5,582.7 L614.6,584.7 L615.7,586.6 L616.7,588.5 L617.8,590.4 L618.9,592.4 L620.0,594.3 L621.0,596.2 L622.1,598.2 L623.2,600.1 L624.3,602.0 L625.4,603.9 L626.4,605.9 L627.5,607.8 L628.6,609.7 L629.7,611.6 L630.8,613.5 L631.9,615.5 L633.0,617.4 L634.1,619.3 L635.2,621.2 L636.3,623.1 L637.4,625.0 L638.5,626.9 L639.6,628.8 L640.7,630.8 L641.8,632.7 L642.9,634.6 L644.0,636.5 L645.1,638.4 L646.2,640.3 L647.4,642.2 L648.5,644.1 L649.6,646.0 L650.7,647.9 L651.9,649.8 L653.0,651.7 L654.1,653.6 L655.3,655.4 L656.4,657.3 L657.5,659.2 L658.7,661.1 L659.8,663.0 L661.0,664.9 L662.1,666.8 L663.3,668.6 L664.4,670.5 L665.6,672.4 L666.8,674.3 L667.9,676.1 L669.1,678.0 L670.3,679.9 L671.4,681.7 L672.6,683.6 L673.8,685.4 L675.0,687.3 L676.2,689.2 L677.3,691.0 L678.5,692.9 L679.7,694.7 L680.9,696.6 L682.1,698.4 L683.3,700.2 L684.5,702.1 L685.7,703.9 L686.9,705.8 L688.2,707.6 L689.4,709.4 L690.6,711.2 L691.8,713.1 L693.1,714.9 L694.3,716.7 L695.5,718.5 L696.8,720.3 L698.0,722.2 L699.2,724.0 L700.5,725.8 L701.7,727.6 L703.0,729.4 L704.3,731.2 L705.5,733.0 L706.8,734.8 L708.1,736.5 L709.3,738.3 L710.6,740.1 L711.9,741.9 L713.2,743.7 L714.5,745.4 L715.8,747.2 L717.1,749.0 L718.4,750.7 L719.7,752.5 L721.0,754.3 L722.3,756.0 L723.6,757.8 L725.0,759.5 L726.3,761.3 L727.6,763.0 L729.0,764.7 L730.3,766.5 L731.6,768.2 L733.0,769.9 L734.3,771.7 L735.7,773.4 L737.1,775.1 L738.4,776.8 L739.8,778.5 L741.2,780.2 L742.6,781.9 L743.9,783.6 L745.3,785.3 L746.7,787.0 L748.1,788.7 L749.5,790.4 L750.9,792.0 L752.4,793.7 L753.8,795.4 L755.2,797.1 L756.6,798.7 L758.1,800.4 L759.5,802.0 L760.9,803.7 L762.4,805.3 L763.8,807.0 L765.3,808.6 L766.8,810.3 L768.2,811.9 L769.7,813.5 L771.2,815.1 L772.7,816.7 L774.2,818.4 L775.7,820.0 L777.2,821.6 L778.7,823.2 L780.2,824.8 L781.7,826.4 L783.2,827.9 L784.7,829.5 L786.3,831.1 L787.8,832.7 L789.4,834.2 L790.9,835.8 L792.5,837.4 L794.0,838.9 L795.6,840.5 L797.2,842.0 L798.7,843.5 L800.3,845.1 L801.9,846.6 L803.5,848.1 L805.1,849.6 L806.7,851.2 L808.3,852.7 L810.0,854.2 L811.6,855.7 L813.2,857.2 L814.9,858.7 L816.5,860.1 L818.1,861.6 L819.8,863.1 L821.5,864.5 L823.1,866.0 L824.8,867.4 L826.5,868.9 L828.2,870.3 L829.9,871.7 L831.6,873.1 L833.3,874.5 L835.0,875.9 L836.7,877.3 L838.5,878.7 L840.2,880.0 L841.9,881.4 L843.7,882.7 L845.5,884.1 L847.2,885.4 L849.0,886.7 L850.8,888.0 L852.6,889.3 L854.3,890.6 L856.1,891.8 L858.0,893.1 L859.8,894.3 L861.6,895.5 L863.4,896.7 L865.3,897.9 L867.1,899.1 L869.0,900.3 L870.8,901.5 L872.7,902.6 L874.6,903.7 L876.4,904.9 L878.3,906.0 L880.2,907.0 L882.1,908.1 L884.0,909.2 L886.0,910.2 L887.9,911.2 L889.8,912.2 L891.8,913.2 L893.7,914.2 L895.7,915.1 L897.7,916.1" fill="none" stroke="#7f00ff" stroke-width="7.5" stroke-linecap="round" stroke-linejoin="round"/>
<path d="M243.1,195.7 L243.9,196.8 L244.6,197.8 L245.3,198.9 L246.0,199.9 L246.8,201.0 L247.5,202.0 L248.2,203.0 L248.9,204.1 L249.6,205.1 L250.3,206.1 L251.0,207.2 L251.7,208.2 L252.5,209.2 L253.2,210.2 L253.9,211.2 L254.6,212.2 L255.3,213.2 L256.0,214.2 L256.7,215.2 L257.4,216.2 L258.1,217.2 L258.8,218.2 L259.5,219.1 L260.2,220.1 L260.9,221.1 L261.6,222.1 L262.3,223.0 L263.1,224.0 L263.8,225.0 L264.5,225.9 L265.2,226.9 L265.9,227.8 L266.6,228.8 L267.4,229.7 L268.1,230.7 L268.8,231.6 L269.5,232.5 L270.3,233.5 L271.0,234.4 L271.7,235.3 L272.5,236.3 L273.2,237.2 L274.0,238.1 L274.7,239.1 L275.5,240.0 L276.2,240.9 L277.0,241.8 L277.8,242.7 L278.5,243.6 L279.3,244.5 L280.1,245.5 L280.9,246.4 L281.7,247.3 L282.5,248.2 L283.3,249.1 L284.1,250.0 L284.9,250.9 L285.7,251.8 L286.6,252.7 L287.4,253.6 L288.2,254.4 L289.1,255.3 L289.9,256.2 L290.8,257.1 L291.6,258.0 L292.5,258.9 L293.4,259.8 L294.3,260.7 L295.2,261.5 L296.1,262.4 L297.0,263.3 L297.9,264.2 L298.8,265.1 L299.8,265.9 L300.7,266.8 L301.7,267.6 L302.6,268.5 L303.6,269.4 L304.5,270.2 L305.5,271.0 L306.5,271.9 L307.5,272.7 L308.5,273.5 L309.5,274.3 L310.5,275.1 L311.5,275.8 L312.5,276.6 L313.5,277.3 L314.6,278.1 L315.6,278.8 L316.6,279.5 L317.7,280.2 L318.7,280.8 L319.8,281.5 L320.8,282.1 L321.9,282.8 L323.0,283.4 L324.1,283.9 L325.1,284.5 L326.2,285.0 L327.3,285.6 L328.4,286.1 L329.5,286.5 L330.6,287.0 L331.7,287.4 L332.8,287.8 L334.0,288.2 L335.1,288.5 L336.2,288.9 L337.3,289.1 L338.5,289.4 L339.6,289.7 L340.8,289.9 L341.9,290.0 L343.1,290.2 L344.2,290.3 L345.4,290.4 L346.5,290.4 L347.7,290.5 L348.8,290.4 L350.0,290.4 L351.2,290.3 L352.3,290.2 L353.5,290.1 L354.7,289.9 L355.8,289.7 L357.0,289.5 L358.1,289.3 L359.3,289.0 L360.5,288.7 L361.6,288.4 L362.8,288.0 L363.9,287.6 L365.0,287.2 L366.2,286.8 L367.3,286.4 L368.4,285.9 L369.5,285.4 L370.6,284.9 L371.7,284.3 L372.8,283.8 L373.9,283.2 L375.0,282.6 L376.0,281.9 L377.1,281.3 L378.1,280.6 L379.1,279.9 L380.1,279.2 L381.2,278.5 L382.2,277.8 L383.1,277.0 L384.1,276.3 L385.1,275.5 L386.1,274.7 L387.0,273.9 L388.0,273.1 L388.9,272.3 L389.8,271.5 L390.8,270.6 L391.7,269.8 L392.6,269.0 L393.5,268.1 L394.4,267.3 L395.3,266.4 L396.1,265.5 L397.0,264.7 L397.9,263.8 L398.8,262.9 L399.6,262.0 L400.5,261.1 L401.3,260.3 L402.2,259.4 L403.0,258.5 L403.9,257.6 L404.7,256.7 L405.6,255.8 L406.4,254.9 L407.3,254.1 L408.1,253.2 L408.9,252.3 L409.8,251.4 L410.6,250.5 L411.5,249.6 L412.3,248.8 L413.2,247.9 L414.0,247.0 L414.9,246.2 L415.7,245.3 L416.6,244.4 L417.4,243.6 L418.3,242.8 L419.2,241.9 L420.0,241.1 L420.9,240.3 L421.8,239.4 L422.7,238.6 L423.6,237.8 L424.5,237.0 L425.4,236.3 L427.4,223.4 L429.9,221.2 L432.6,219.3 L435.4,217.8 L438.2,216.5 L441.0,215.5 L443.9,214.8 L446.7,214.4 L449.6,214.2 L452.4,214.3 L455.2,214.7 L457.8,215.3 L460.5,216.2 L463.1,217.2 L465.6,218.4 L468.0,219.8 L470.4,221.4 L472.7,223.1 L475.0,224.9 L477.2,226.8 L479.4,228.8 L481.5,230.9 L483.5,233.0 L485.5,235.2 L487.4,237.4 L489.3,239.6 L491.1,241.9 L492.9,244.2 L494.7,246.6 L496.4,249.0 L498.0,251.4 L499.6,253.8 L501.2,256.3 L502.8,258.8 L504.3,261.3 L505.8,263.8 L507.3,266.4 L508.8,268.9 L510.2,271.5 L511.6,274.0 L513.1,276.6 L514.5,279.2 L515.9,281.8 L517.3,284.4 L518.7,286.9 L520.0,289.5 L521.4,292.1 L522.8,294.7 L524.2,297.3 L525.5,299.9 L526.9,302.5 L528.2,305.0 L529.6,307.6 L530.9,310.2 L532.3,312.8 L533.6,315.4 L534.9,318.0 L536.3,320.6 L537.6,323.2 L538.9,325.8 L540.2,328.4 L541.5,331.0 L542.8,333.6 L544.1,336.1 L545.4,338.7 L546.7,341.3 L548.0,343.9 L549.3,346.5 L550.6,349.1 L551.9,351.8 L553.1,354.4 L554.4,357.0 L555.7,359.6 L556.9,362.2 L558.2,364.8 L559.5,367.4 L560.7,370.0 L562.0,372.6 L563.3,375.2 L564.5,377.8 L565.8,380.5 L567.0,383.1 L568.3,385.7 L569.5,388.3 L570.8,390.9 L572.0,393.6 L573.2,396.2 L574.5,398.8 L575.7,401.4 L577.0,404.1 L578.2,406.7 L579.4,409.3 L580.7,412.0 L581.9,414.6 L583.1,417.2 L584.4,419.9 L585.6,422.5 L586.8,425.2 L588.1,427.8 L589.3,430.4 L590.5,433.1 L591.8,435.7 L593.0,438.4 L594.2,441.0 L595.5,443.7 L596.7,446.3 L597.9,449.0 L599.1,451.6 L600.4,454.3 L601.6,456.9 L602.8,459.6 L604.1,462.2 L605.3,464.9 L606.5,467.5 L607.7,470.2 L609.0,472.8 L610.2,475.5 L611.4,478.1 L612.7,480.8 L613.9,483.4 L615.1,486.1 L616.4,488.7 L617.6,491.4 L618.8,494.0 L620.1,496.7 L621.3,499.4 L622.5,502.0 L623.8,504.7 L625.0,507.3 L626.2,510.0 L627.5,512.6 L628.7,515.3 L630.0,517.9 L631.2,520.6 L632.5,523.2 L633.7,525.9 L635.0,528.5 L636.2,531.2 L637.5,533.8 L638.7,536.5 L640.0,539.1 L641.2,541.8 L642.5,544.4 L643.7,547.1 L645.0,549.7 L646.3,552.4 L647.5,555.0 L648.8,557.6 L650.1,560.3 L651.3,562.9 L652.6,565.6 L653.9,568.2 L655.2,570.8 L656.5,573.5 L657.7,576.1 L659.0,578.7 L660.3,581.4 L661.6,584.0 L662.9,586.6 L664.2,589.2 L665.5,591.9 L666.8,594.5 L668.1,597.1 L669.4,599.7 L670.7,602.3 L672.0,605.0 L673.4,607.6 L674.7,610.2 L676.0,612.8 L677.3,615.4 L678.7,618.0 L680.0,620.6 L681.3,623.2 L682.7,625.8 L684.0,628.4 L685.4,631.0 L686.7,633.6 L688.1,636.2 L689.4,638.8 L690.8,641.4 L692.2,643.9 L693.5,646.5 L694.9,649.1 L696.3,651.7 L697.7,654.2 L699.1,656.8 L700.5,659.4 L701.9,661.9 L703.3,664.5 L704.7,667.1 L706.1,669.6 L707.5,672.2 L708.9,674.7 L710.3,677.3 L711.7,679.8 L713.2,682.3 L714.6,684.9 L716.1,687.4 L717.5,689.9 L719.0,692.5 L720.4,695.0 L721.9,697.5 L723.3,700.0 L724.8,702.5 L726.3,705.1 L727.8,707.6 L729.3,710.1 L730.7,712.6 L732.2,715.1 L733.7,717.6 L735.3,720.0 L736.8,722.5 L738.3,725.0 L739.8,727.5 L741.3,730.0 L742.9,732.4 L744.4,734.9 L746.0,737.3 L747.5,739.8 L749.1,742.3 L750.7,744.7 L752.2,747.1 L753.8,749.6 L755.4,752.0 L757.0,754.5 L758.6,756.9 L760.2,759.3 L761.8,761.7 L763.4,764.1 L765.0,766.5 L766.7,768.9 L768.3,771.3 L770.0,773.7 L771.6,776.1 L773.3,778.5 L774.9,780.9 L776.6,783.3 L778.3,785.6 L780.0,788.0 L781.7,790.3 L783.4,792.7 L785.1,795.1 L786.8,797.4 L788.5,799.7 L790.2,802.1 L792.0,804.4 L793.7,806.7 L795.5,809.0 L797.2,811.3 L799.0,813.7 L800.8,816.0 L802.6,818.2 L804.3,820.5 L806.1,822.8 L807.9,825.1 L809.8,827.4 L811.6,829.6 L813.4,831.9 L815.3,834.2 L817.1,836.4 L819.0,838.6 L820.8,840.9 L822.7,843.1 L824.6,845.3 L826.5,847.6 L828.4,849.8 L830.3,852.0 L832.2,854.2 L834.1,856.4 L836.0,858.6 L838.0,860.7 L839.9,862.9 L841.9,865.1 L843.8,867.2 L845.8,869.4 L847.8,871.5 L849.8,873.7 L851.8,875.8 L853.8,877.9 L855.8,880.1 L857.9,882.2 L859.9,884.3 L862.0,886.4 L864.0,888.5 L866.1,890.6 L868.2,892.7 L870.3,894.7 L872.4,896.8 L874.5,898.8 L876.6,900.9 L878.7,902.9 L880.9,905.0 L883.0,907.0 L885.2,909.0 L887.3,911.0 L889.5,913.1 L891.7,915.0 L893.9,917.0 L896.1,919.0 L898.3,921.0" fill="none" stroke="#00ff00" stroke-width="7.5" stroke-linecap="round" stroke-linejoin="round"/>
</g>
<path d="M242.6,86 L242.6,1021.9 L1029.0,1021.9 M222.6,913.0 L242.6,913.0 M222.6,695.3 L242.6,695.3 M222.6,477.6 L242.6,477.6 M222.6,259.9 L242.6,259.9 M232.6,1021.9 L242.6,1021.9 M232.6,804.1 L242.6,804.1 M232.6,586.5 L242.6,586.5 M232.6,368.8 L242.6,368.8 M232.6,151.1 L242.6,151.1 M373.7,1021.9 L373.7,1039.8 M635.8,1021.9 L635.8,1039.8 M897.9,1021.9 L897.9,1039.8 M242.6,1021.9 L242.6,1030.8 M504.8,1021.9 L504.8,1030.8 M766.8,1021.9 L766.8,1030.8 M1029.0,1021.9 L1029.0,1030.8" fill="none" stroke="#000" stroke-width="4" stroke-linecap="round" stroke-linejoin="round"/>
<text transform="translate(211,924.2) scale(1,1.055)" font-family="Liberation Sans, sans-serif" font-size="40" text-anchor="end">0.0</text>
<text transform="translate(211,706.5) scale(1,1.055)" font-family="Liberation Sans, sans-serif" font-size="40" text-anchor="end">0.1</text>
<text transform="translate(211,488.8) scale(1,1.055)" font-family="Liberation Sans, sans-serif" font-size="40" text-anchor="end">0.2</text>
<text transform="translate(211,271.1) scale(1,1.055)" font-family="Liberation Sans, sans-serif" font-size="40" text-anchor="end">0.3</text>
<text transform="translate(373.7,1085.4) scale(1,1.055)" font-family="Liberation Sans, sans-serif" font-size="40" text-anchor="middle">500</text>
<text transform="translate(635.8,1085.4) scale(1,1.055)" font-family="Liberation Sans, sans-serif" font-size="40" text-anchor="middle">600</text>
<text transform="translate(897.9,1085.4) scale(1,1.055)" font-family="Liberation Sans, sans-serif" font-size="40" text-anchor="middle">700</text>
<text x="636" y="1162.5" font-family="Liberation Sans, sans-serif" font-size="34" font-weight="bold" text-anchor="middle">Wavelength (nm)</text>
<text transform="translate(136.2,579.1) rotate(-90)" x="0" y="0" font-family="Liberation Sans, sans-serif" font-size="34" font-weight="bold" letter-spacing="0.77" text-anchor="middle">Absorbance (a.u.)</text>
<rect x="672.2" y="220.2" width="229.8" height="256.8" fill="#fff" stroke="#000" stroke-width="2"/>
<line x1="686" y1="255.1" x2="755" y2="255.1" stroke="#00009a" stroke-width="7.5" stroke-linecap="round"/>
<text x="778.7" y="265.6" font-family="Liberation Sans, sans-serif" font-size="29.5">pH 3.50</text>
<line x1="686" y1="293.0" x2="755" y2="293.0" stroke="#00ffff" stroke-width="7.5" stroke-linecap="round"/>
<text x="778.7" y="303.5" font-family="Liberation Sans, sans-serif" font-size="29.5">pH 4.13</text>
<line x1="686" y1="331.0" x2="755" y2="331.0" stroke="#ff0000" stroke-width="7.5" stroke-linecap="round"/>
<text x="778.7" y="341.5" font-family="Liberation Sans, sans-serif" font-size="29.5">pH 5.14</text>
<line x1="686" y1="368.9" x2="755" y2="368.9" stroke="#ff80ff" stroke-width="7.5" stroke-linecap="round"/>
<text x="778.7" y="379.4" font-family="Liberation Sans, sans-serif" font-size="29.5">pH 6.23</text>
<line x1="686" y1="406.9" x2="755" y2="406.9" stroke="#7f00ff" stroke-width="7.5" stroke-linecap="round"/>
<text x="778.7" y="417.4" font-family="Liberation Sans, sans-serif" font-size="29.5">pH 7.30</text>
<line x1="686" y1="444.8" x2="755" y2="444.8" stroke="#00ff00" stroke-width="7.5" stroke-linecap="round"/>
<text x="778.7" y="455.3" font-family="Liberation Sans, sans-serif" font-size="29.5">pH 9.30</text>
</svg>
</body></html>
